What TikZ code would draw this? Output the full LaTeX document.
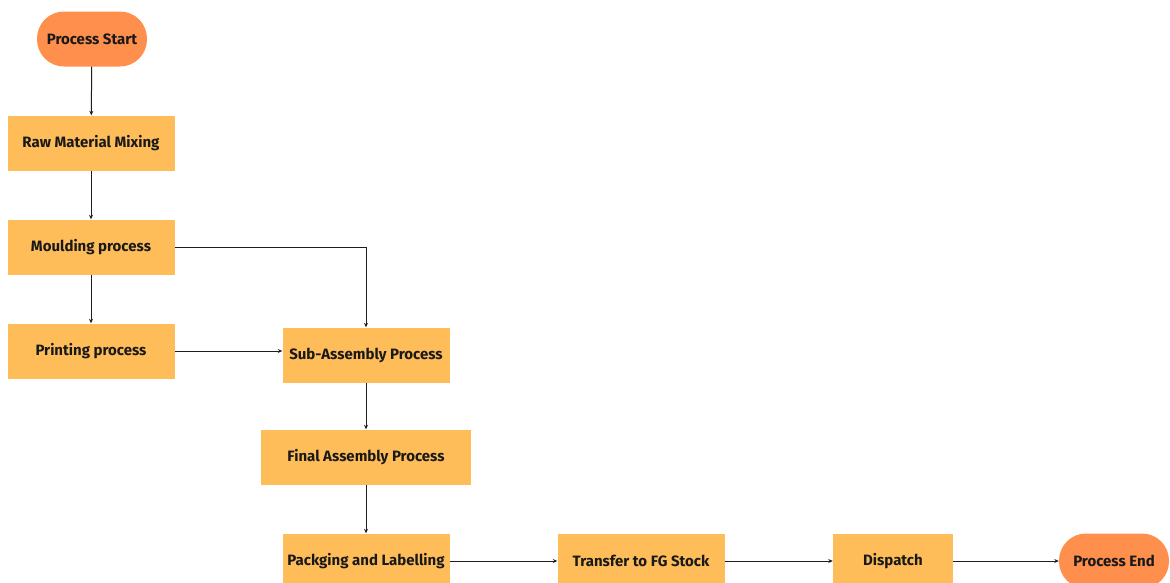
\documentclass[tikz,border=0pt]{standalone}
\usepackage{fontspec}
\setmainfont{Fira Sans}
\usetikzlibrary{arrows.meta}
\definecolor{stepfill}{RGB}{255,189,89}
\definecolor{termfill}{RGB}{255,143,77}
\definecolor{inkline}{RGB}{30,30,30}

\begin{document}
\begin{tikzpicture}[x=1pt,y=-1pt,
    procbox/.style={fill=stepfill,minimum width=167pt,minimum height=55pt,inner sep=2pt,
      font=\fontsize{15}{17}\selectfont\bfseries,text=black!90},
    terminal/.style={fill=termfill,rounded corners=27pt,minimum width=110pt,minimum height=55pt,
      font=\fontsize{15}{17}\selectfont\bfseries,text=black!90},
    flow/.style={draw=inkline,line width=1pt,-{Stealth[length=4.5pt,width=4pt]}}]
      \useasboundingbox (0,0) rectangle (1170,582);
      \node[terminal] (start) at (92,39) {Process Start};
      \node[procbox] (mix) at (91,143) {Raw Material Mixing};
      \node[procbox] (mould) at (91,247) {Moulding process};
      \node[procbox] (print) at (91,351) {Printing process};
      \node[procbox] (subasm) at (366,355) {Sub-Assembly Process};
      \node[procbox,minimum width=210pt] (finasm) at (366,457) {Final Assembly Process};
      \node[procbox] (pack) at (366,561) {Packging and Labelling};
      \node[procbox] (fgstock) at (641,561) {Transfer to FG Stock};
      \node[procbox,minimum width=120pt] (dispatch) at (893,561) {Dispatch};
      \node[terminal] (finish) at (1114,561) {Process End};
      \draw[flow](start)--(mix);
      \draw[flow](mix)--(mould);
      \draw[flow](mould)--(print);
      \draw[flow](mould.east)-|(subasm.north);
      \draw[flow](print.east)--(print.east-|subasm.west);
      \draw[flow](subasm)--(finasm);
      \draw[flow](finasm)--(pack);
      \draw[flow](pack)--(fgstock);
      \draw[flow](fgstock)--(dispatch);
      \draw[flow](dispatch)--(finish);
    \end{tikzpicture}
\end{document}
